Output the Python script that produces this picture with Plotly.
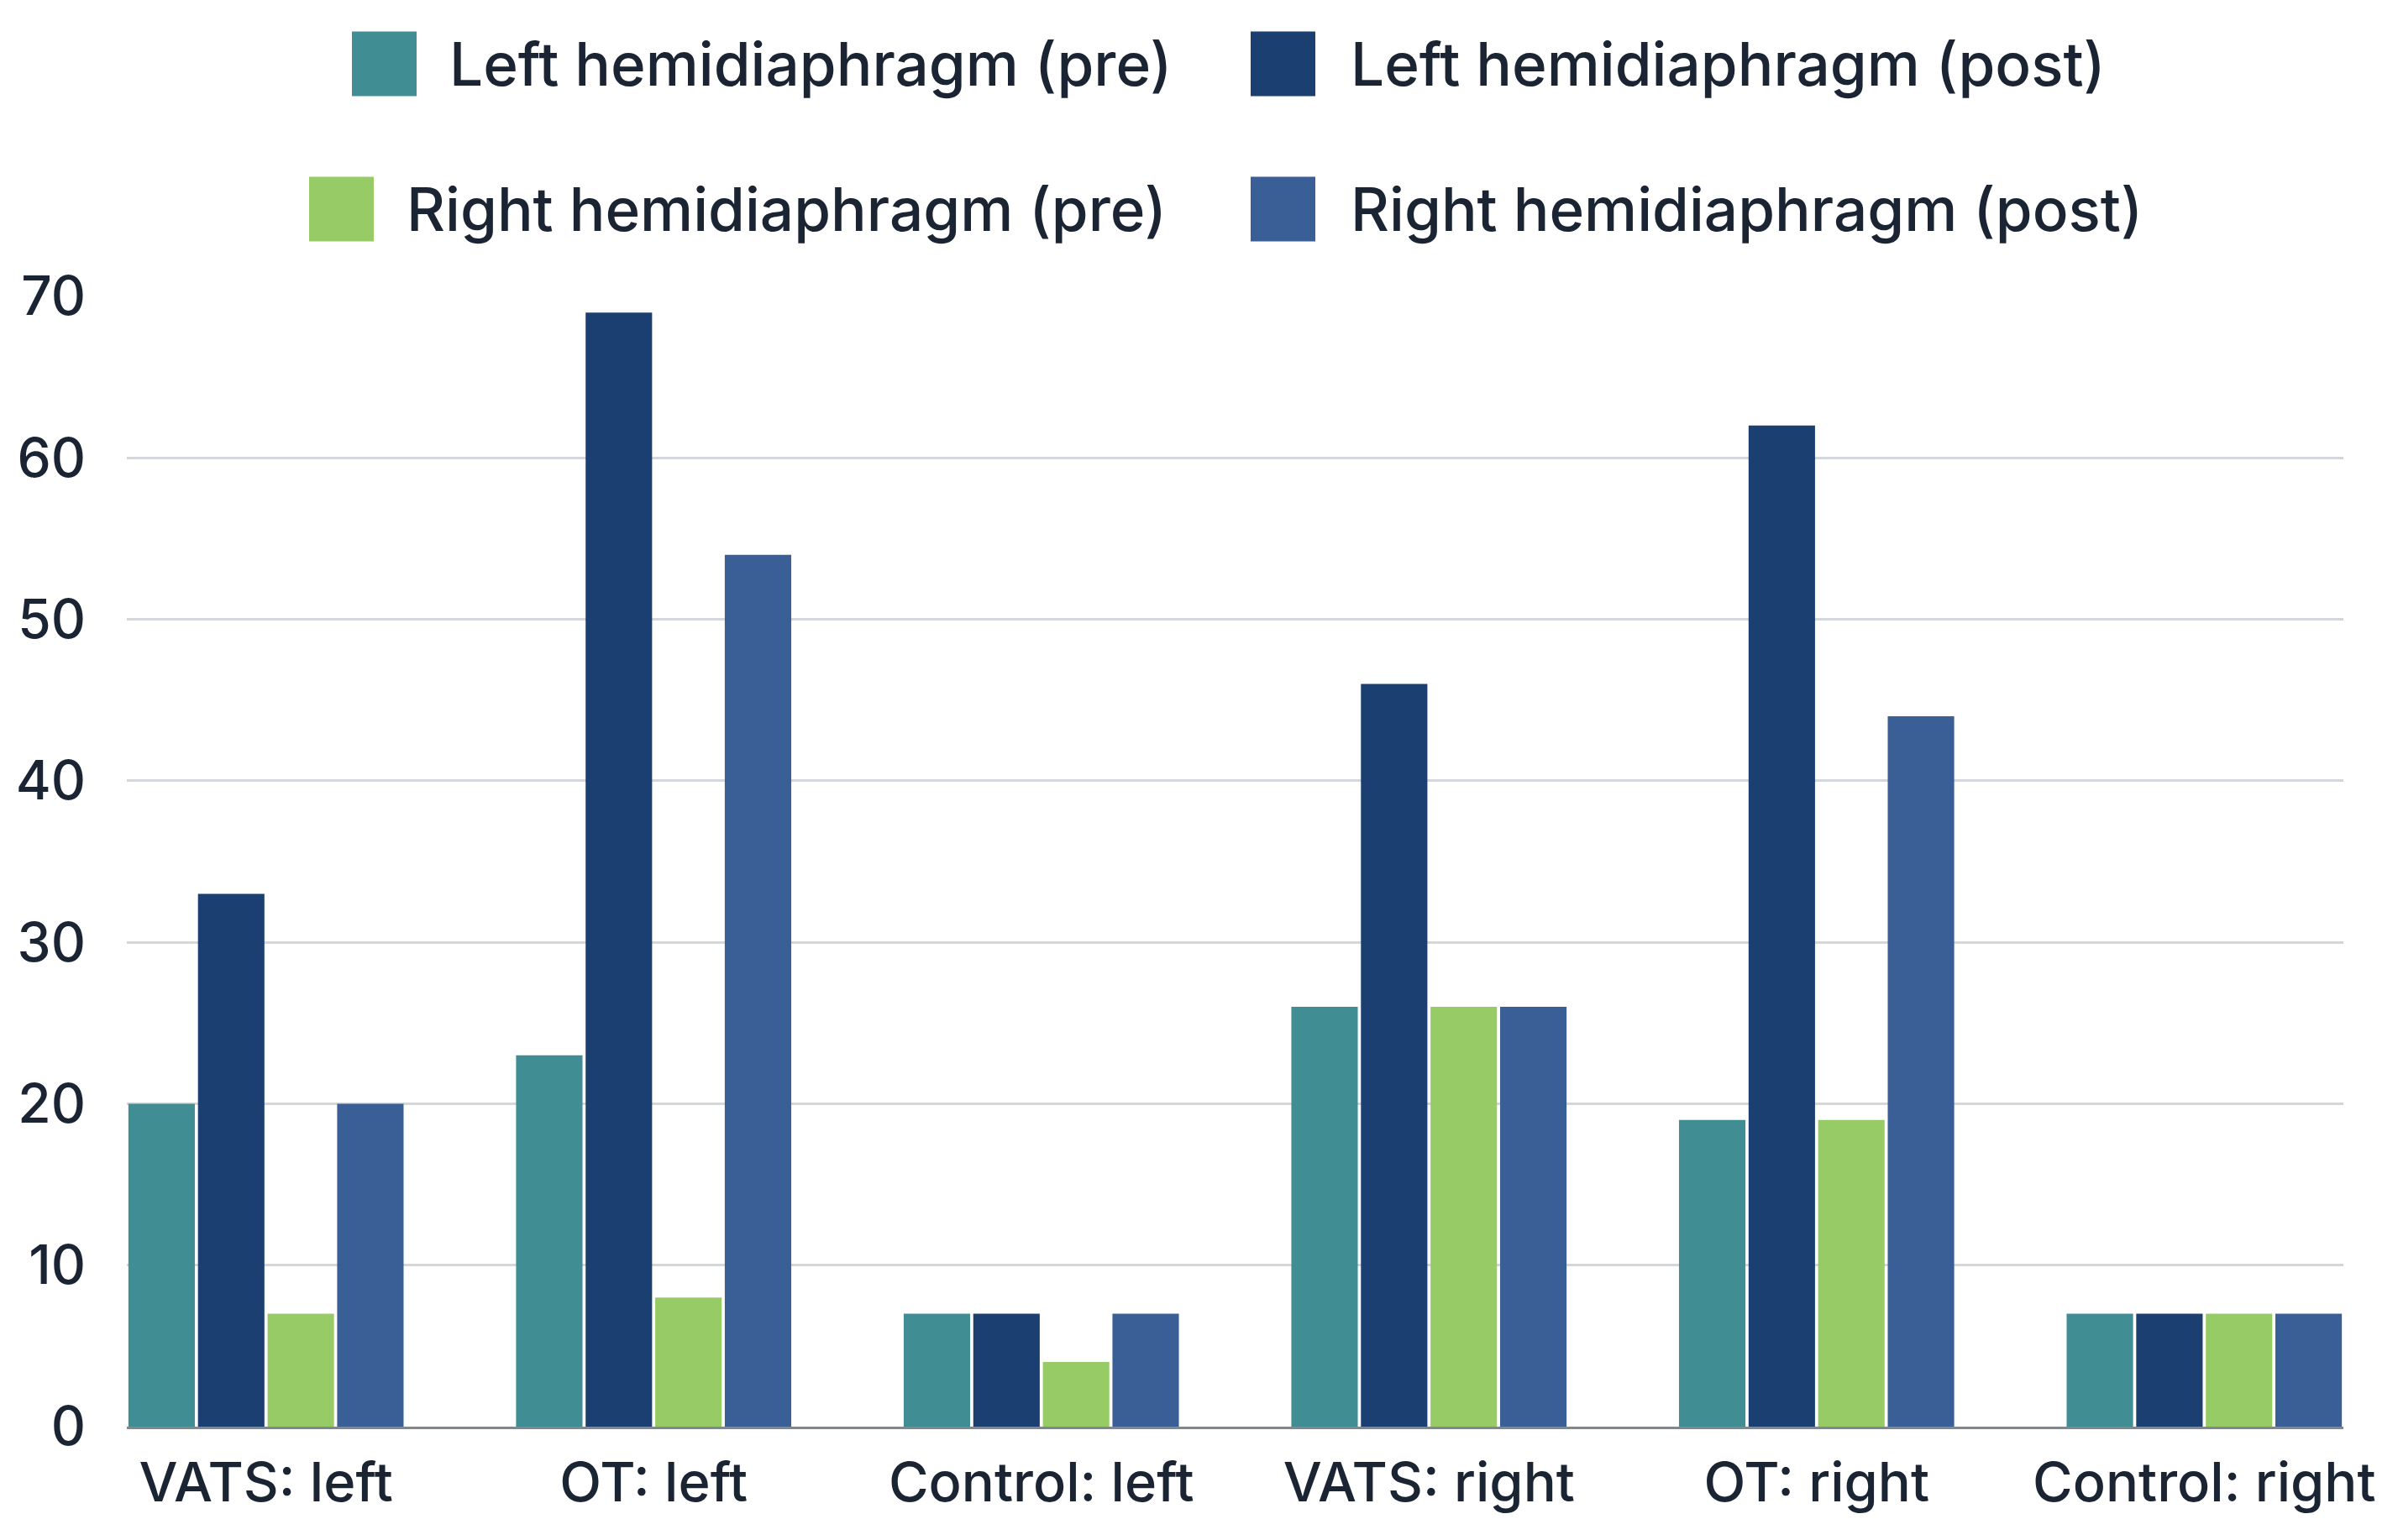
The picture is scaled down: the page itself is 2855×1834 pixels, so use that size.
import plotly.graph_objects as go

categories = ["VATS: left", "OT: left", "Control: left", "VATS: right", "OT: right", "Control: right"]
series_names = ["Left hemidiaphragm (pre)", "Left hemidiaphragm (post)",
                "Right hemidiaphragm (pre)", "Right hemidiaphragm (post)"]
left_pre = [20, 23, 7, 26, 19, 7]
left_post = [33, 69, 7, 46, 62, 7]
right_pre = [7, 8, 4, 26, 19, 7]
right_post = [20, 54, 7, 26, 44, 7]
y_ticks = [0, 10, 20, 30, 40, 50, 60, 70]

colors = ["#408E94", "#1B3F70", "#97CB66", "#3A5F97"]
values = [left_pre, left_post, right_pre, right_post]

OFF = 8  # page body margin
W, H = 2855 - 2 * OFF, 1834 - 2 * OFF
# reference page coordinates of plot area
PX0, PX1, PY0, PY1 = 151, 2790, 353, 1699
L = PX0 - OFF
T = PY0 - OFF
R = W - (PX1 - OFF)
B = H - (PY1 - OFF)
PW, PH = PX1 - PX0, PY1 - PY0
FONT = "Inter"
TXT = "#1a2433"

fig = go.Figure()
for name, vals, col in zip(series_names, values, colors):
    fig.add_trace(go.Bar(x=categories, y=vals, name=name, marker_color=col,
                         marker_line_width=0, showlegend=False))

def px_x(p):
    return (p - PX0) / PW

def px_y(p):
    return (PY1 - p) / PH

# manual legend (large swatches like the reference), reference page coords
legend_items = [
    (0, 419, 76, 533),
    (1, 1489, 76, 1606),
    (2, 368, 249, 482),
    (3, 1489, 249, 1606),
]
shapes = []
annotations = []
sw = 77
for idx, sx, cy, tx in legend_items:
    shapes.append(dict(type="rect", xref="paper", yref="paper",
                       x0=px_x(sx), x1=px_x(sx + sw),
                       y0=px_y(cy + sw / 2), y1=px_y(cy - sw / 2),
                       fillcolor=colors[idx], line_width=0))
    annotations.append(dict(text=series_names[idx], xref="paper", yref="paper",
                            x=px_x(tx), y=px_y(cy), xanchor="left", yanchor="middle",
                            showarrow=False,
                            font=dict(family=FONT, size=71, color=TXT, weight=500)))

fig.update_layout(
    width=W, height=H,
    margin=dict(l=L, r=R, t=T, b=B, pad=0),
    paper_bgcolor="white", plot_bgcolor="white",
    barmode="group", bargap=0.282, bargroupgap=0.045,
    shapes=shapes, annotations=annotations,
    font=dict(family=FONT, color=TXT, weight=500),
    xaxis=dict(range=[-0.359, 5.359], showgrid=False, zeroline=False,
               showline=True, linecolor="#7f8790", linewidth=3,
               tickfont=dict(size=65, color=TXT, weight=500), ticks="", ticklabelstandoff=8),
    yaxis=dict(range=[0, 70], tickvals=y_ticks, showgrid=True, gridcolor="#d3d6da",
               gridwidth=3, zeroline=False, showline=False,
               tickfont=dict(size=64, color=TXT, weight=500), ticks="", ticklabelstandoff=48),
)

fig.write_html("out.html")
